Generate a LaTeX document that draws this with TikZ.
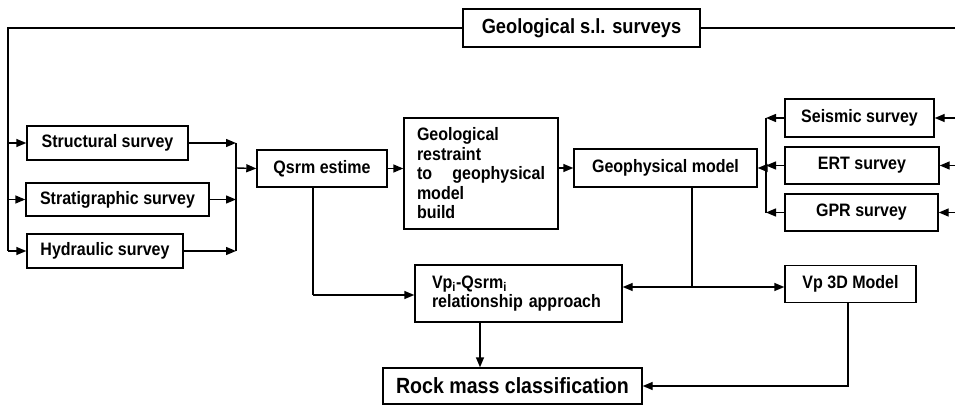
\documentclass[tikz,border=0pt]{standalone}
\usepackage{fontspec}
\setmainfont{Liberation Sans}[FakeStretch=0.89]
\usetikzlibrary{arrows.meta}

\begin{document}
\begin{tikzpicture}[x=1pt, y=-1pt, line width=1.4pt,
  box/.style={draw, line width=1.4pt, inner sep=0pt, font=\bfseries\fontsize{18}{19.5}\selectfont},
  arr/.style={-{Triangle[length=10pt,width=8pt]}}]
  \useasboundingbox (0,0) rectangle (955,406);

  % top
  \node[box, minimum width=237, minimum height=38, font=\bfseries\fontsize{20.5}{22}\selectfont] (geo) at (581.5,28) {Geological s.l. surveys};

  % geological surveys
  \node[box, minimum width=161, minimum height=34] (struct) at (107.5,143) {Structural survey};
  \node[box, minimum width=183, minimum height=33] (strat) at (117.5,199.5) {Stratigraphic survey};
  \node[box, minimum width=156, minimum height=34] (hydr) at (105,251) {Hydraulic survey};
  \node[box, minimum width=130, minimum height=37] (qsrm) at (322,168.5) {Qsrm estime};
  \node[box, minimum width=154, minimum height=111, text width=128, align=left] (restr) at (481,173.5)
    {Geological\\ restraint\\ to\hfill geophysical\\ model\\ build};

  % geophysical surveys
  \node[box, minimum width=183, minimum height=38] (geoph) at (665.5,168) {Geophysical model};
  \node[box, minimum width=149, minimum height=38] (seis) at (859.5,118) {Seismic survey};
  \node[box, minimum width=154, minimum height=37] (ert) at (862,165.5) {ERT survey};
  \node[box, minimum width=153, minimum height=37] (gpr) at (861.5,212.5) {GPR survey};

  % bottom
  \node[box, minimum width=207, minimum height=57, text width=173, align=left] (vpq) at (518.5,293.5)
    {Vp\textsubscript{i}-Qsrm\textsubscript{i}\\ relationship approach};
  \node[box, minimum width=131, minimum height=37] (vp3d) at (850.5,284) {Vp 3D Model};
  \node[box, minimum width=259, minimum height=36, font=\bfseries\fontsize{22}{24}\selectfont] (rock) at (512.5,386) {Rock mass classification};

  % junctions
  \coordinate (lbus) at (8,251);
  \coordinate (rend) at (955,28);
  \coordinate (mg) at (236,168);
  \coordinate (rs) at (766,168);
  \coordinate (qd) at (313,295);
  \coordinate (jn) at (692,287);
  \coordinate (vd) at (480,330);

  % left bus
  \draw (geo.west) -| (lbus);
  \draw (geo.east) -- (rend);
  \foreach \b in {struct,strat,hydr}
    \draw[arr] (\b.west -| lbus) -- (\b.west);

  % merge into Qsrm
  \foreach \b in {struct,strat,hydr}
    \draw[arr] (\b.east) -- (\b.east -| mg);
  \draw (mg |- struct.east) -- (mg |- hydr.east);
  \draw[arr] (mg) -- (qsrm.west);
  \draw[arr] (qsrm.east) -- (qsrm.east -| restr.west);
  \draw[arr] (restr.east |- geoph.west) -- (geoph.west);

  % right bracket
  \foreach \b in {seis,ert,gpr}{
    \draw[arr] (\b.east -| rend) -- (\b.east);
    \draw[arr] (\b.west) -- (\b.west -| rs);
  }
  \draw (rs |- seis.west) -- (rs |- gpr.west);
  \draw[arr] (rs) -- (geoph.east);

  % lower part
  \draw (qsrm.south -| qd) -- (qd);
  \draw[arr] (qd) -- (qd -| vpq.west);
  \draw (geoph.south -| jn) -- (jn);
  \draw[arr] (jn) -- (jn -| vpq.east);
  \draw[arr] (jn) -- (jn -| vp3d.west);
  \draw[arr] (vpq.south -| vd) -- (rock.north -| vd);
  \draw[arr] (vp3d.south -| 848,0) |- (rock.east);

\end{tikzpicture}
\end{document}
